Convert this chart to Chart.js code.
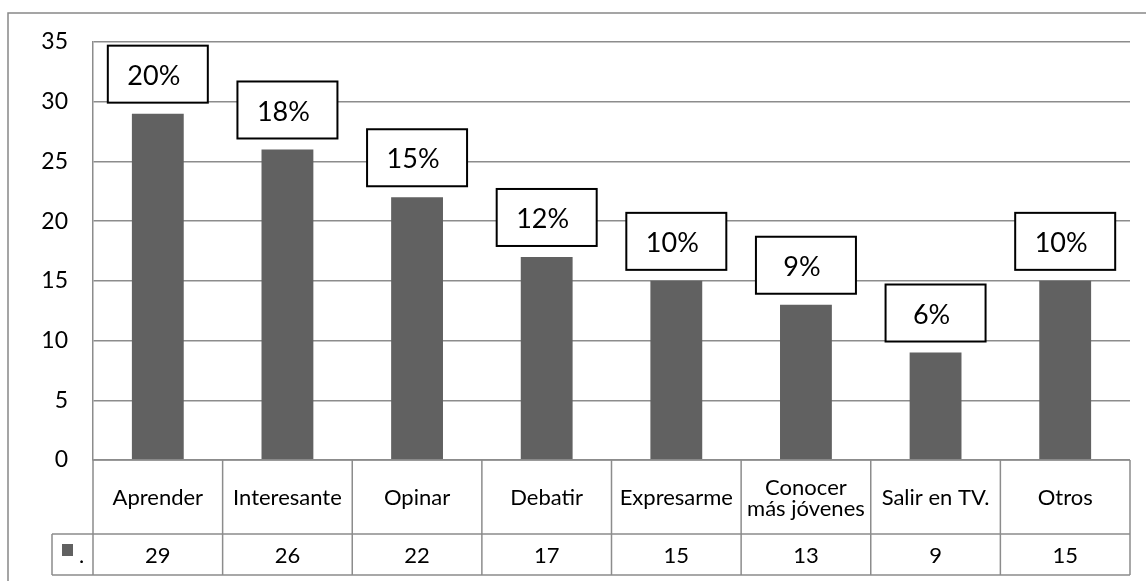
<!DOCTYPE html>
<html>
<head>
<meta charset="utf-8">
<script src="https://cdn.jsdelivr.net/npm/chart.js@4.4.1/dist/chart.umd.min.js"></script>
<style>
  html, body { margin: 0; padding: 0; background: #ffffff; }
  #wrap { width: 1146px; height: 581px; }
</style>
</head>
<body>
<div id="wrap"><canvas id="c" width="1146" height="581"></canvas></div>
<script>
// Motivos para participar: respuestas por categoría
const categories = [['Aprender'], ['Interesante'], ['Opinar'], ['Debatir'], ['Expresarme'], ['Conocer', 'más jóvenes'], ['Salir en TV.'], ['Otros']];
const counts = [29, 26, 22, 17, 15, 13, 9, 15];
const shares = ['20%', '18%', '15%', '12%', '10%', '9%', '6%', '10%'];
const seriesName = '.';

const BAR = '#616161';
const LINE = '#8c8c8c';
const FONT = 'Lato, "Liberation Sans", sans-serif';

// outer frame of the chart object
const framePlugin = {
  id: 'frame',
  beforeDraw(chart) {
    const ctx = chart.ctx;
    ctx.save();
    ctx.strokeStyle = '#888888';
    ctx.lineWidth = 1.5;
    ctx.beginPath();
    ctx.moveTo(8, chart.height);
    ctx.lineTo(8, 13);
    ctx.lineTo(chart.width, 13);
    ctx.stroke();
    ctx.restore();
  }
};

// data table under the plot: category row + value row with legend key
const tablePlugin = {
  id: 'dataTable',
  afterDraw(chart) {
    const ctx = chart.ctx;
    const area = chart.chartArea;
    const n = categories.length;
    const cellW = (area.right - area.left) / n;
    const y0 = area.bottom;
    const y1 = y0 + 74;
    const y2 = y1 + 41;
    const keyLeft = area.left - 41;
    ctx.save();
    ctx.strokeStyle = LINE;
    ctx.lineWidth = 1.5;
    ctx.beginPath();
    ctx.moveTo(area.left, y0); ctx.lineTo(area.right, y0);
    ctx.moveTo(keyLeft, y1); ctx.lineTo(area.right, y1);
    ctx.moveTo(keyLeft, y2); ctx.lineTo(area.right, y2);
    ctx.moveTo(keyLeft, y1); ctx.lineTo(keyLeft, y2);
    for (let k = 0; k <= n; k++) {
      const x = area.left + k * cellW;
      ctx.moveTo(x, y0); ctx.lineTo(x, y2);
    }
    ctx.stroke();

    ctx.fillStyle = '#000';
    ctx.font = '22px ' + FONT;
    ctx.textAlign = 'center';
    ctx.textBaseline = 'middle';
    const lh = 21;
    categories.forEach((lines, i) => {
      const cx = chart.scales.x.getPixelForValue(i);
      const cy = (y0 + y1) / 2;
      const start = cy - (lines.length - 1) * lh / 2;
      lines.forEach((t, j) => ctx.fillText(t, cx, start + j * lh + 1));
      ctx.fillText(String(counts[i]), cx, (y1 + y2) / 2 + 1);
    });

    // legend key
    ctx.fillStyle = BAR;
    ctx.fillRect(keyLeft + 10, y1 + 10, 11, 12);
    ctx.fillStyle = '#000';
    ctx.textAlign = 'left';
    ctx.fillText(seriesName, keyLeft + 27, (y1 + y2) / 2 + 1);
    ctx.restore();
  }
};

// share boxes above each bar
const sharePlugin = {
  id: 'shareBoxes',
  afterDatasetsDraw(chart) {
    const ctx = chart.ctx;
    const meta = chart.getDatasetMeta(0);
    const w = 100, h = 57, gap = 11;
    ctx.save();
    ctx.font = '27px ' + FONT;
    ctx.textAlign = 'center';
    ctx.textBaseline = 'middle';
    meta.data.forEach((bar, i) => {
      const bx = bar.x - w / 2;
      const by = bar.y - gap - h;
      ctx.fillStyle = '#fff';
      ctx.fillRect(bx, by, w, h);
      ctx.strokeStyle = '#000';
      ctx.lineWidth = 2;
      ctx.strokeRect(bx, by, w, h);
      ctx.fillStyle = '#000';
      ctx.fillText(shares[i], bar.x - 4, by + h / 2 + 2);
    });
    ctx.restore();
  }
};

new Chart(document.getElementById('c'), {
  type: 'bar',
  data: {
    labels: categories,
    datasets: [{
      label: seriesName,
      data: counts,
      backgroundColor: BAR,
      borderWidth: 0,
      barPercentage: 0.4,
      categoryPercentage: 1
    }]
  },
  options: {
    responsive: false,
    devicePixelRatio: 1,
    animation: false,
    layout: { padding: { left: 8, top: 42, right: 16, bottom: 121 } },
    plugins: { legend: { display: false }, tooltip: { enabled: false } },
    scales: {
      x: { display: false },
      y: {
        min: 0,
        max: 35,
        ticks: { stepSize: 5, padding: 25, color: '#000', font: { family: FONT, size: 23 } },
        grid: { color: LINE, lineWidth: 1.5, drawTicks: false },
        border: { display: true, color: LINE, width: 1.5 },
        afterFit(scale) { scale.width = 85; }
      }
    }
  },
  plugins: [framePlugin, tablePlugin, sharePlugin]
});
</script>
</body>
</html>
